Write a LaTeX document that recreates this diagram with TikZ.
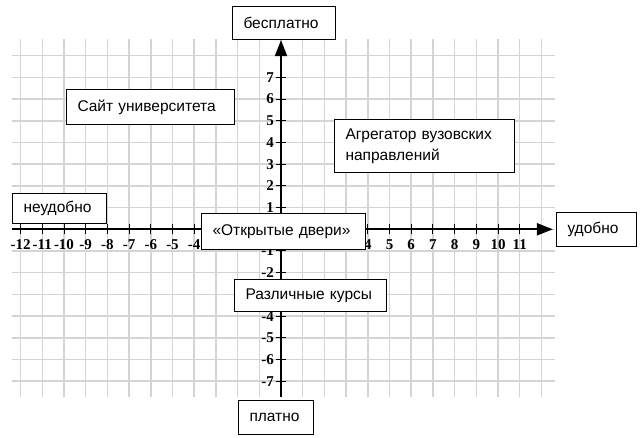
\documentclass[tikz,border=0pt]{standalone}
\usepackage{fontspec}
\setmainfont{Liberation Sans}
\newfontfamily\numfont{Liberation Serif}[BoldFont={Liberation Serif Bold}]
\usetikzlibrary{arrows.meta}

\tikzset{
  gridline/.style={draw=black!17, line width=1.5pt},
  axisline/.style={draw=black, line width=2pt, -{Triangle[length=16pt,width=12pt]}},
  tickmark/.style={draw=black, line width=1pt},
  ticklabel/.style={font=\fontsize{15}{15}\numfont\bfseries\selectfont, inner sep=0pt},
  labelbox/.style={draw=black, fill=white, line width=1pt, anchor=north west,
    inner xsep=11pt, inner ysep=2pt, align=left,
    font=\fontsize{15.5}{21}\selectfont},
}

\begin{document}
\begin{tikzpicture}[x=1pt, y=-1pt]
\useasboundingbox (0,0) rectangle (643,438);

% coordinate plane: grid, axes, ticks and numbers
\begin{scope}[shift={(281,229.3)}, x=21.7pt, y=21.7pt]
  \foreach \i in {-12,...,12}
    \draw[gridline] (\i,-7.73) -- (\i,8.77);
  \foreach \j in {-7,...,8}
    \draw[gridline] (-12.4,\j) -- (12.63,\j);

  \coordinate (xstart) at (-12.4,0);
  \coordinate (xend) at (12.53,0);
  \coordinate (ystart) at (0,-7.73);
  \coordinate (yend) at (0,8.72);
  \draw[axisline] (xstart) -- (xend);
  \draw[axisline] (ystart) -- (yend);

  \foreach \i in {-12,...,-1,1,2,...,11} {
    \draw[tickmark] (\i,0) ++(0,-5pt) -- ++(0,10pt);
    \node[ticklabel] (xl\i) at ([yshift=-15pt]\i,0) {\i};
  }
  \foreach \j in {-7,...,-1,1,2,...,7} {
    \draw[tickmark] (0,\j) ++(-5pt,0) -- ++(10pt,0);
    \node[ticklabel, anchor=east] (yl\j) at ([xshift=-7pt]0,\j) {\j};
  }
\end{scope}

% labelled boxes
\node[labelbox, text width=81pt,  minimum height=33pt] (free)    at (232,6)   {бесплатно};
\node[labelbox, text width=146pt, minimum height=35pt] (site)    at (66,89)   {Сайт университета};
\node[labelbox, text width=158pt, minimum height=53pt] (aggr)    at (334,119) {Агрегатор вузовских\\направлений};
\node[labelbox, text width=72pt,  minimum height=30pt] (incon)   at (12,193)  {неудобно};
\node[labelbox, text width=142pt, minimum height=36pt] (open)    at (201,213) {«Открытые двери»};
\node[labelbox, text width=58pt,  minimum height=34pt] (conv)    at (556,212) {удобно};
\node[labelbox, text width=130pt, minimum height=32pt] (courses) at (234,279) {Различные курсы};
\node[labelbox, text width=53pt,  minimum height=34pt] (paid)    at (238,400) {платно};
\end{tikzpicture}
\end{document}
